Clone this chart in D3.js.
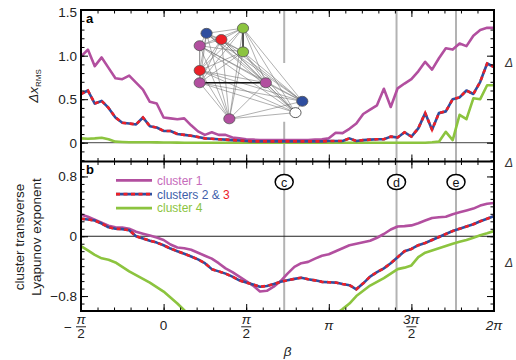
<!DOCTYPE html>
<html><head><meta charset="utf-8">
<script src="https://cdn.jsdelivr.net/npm/d3@7"></script>
<style>
body{margin:0;background:#fff}
svg{display:block}
text{font-family:"Liberation Sans",Arial,Helvetica,sans-serif}
</style>
</head><body>
<svg id="chart" width="516" height="360"></svg>
<script>
const PI = Math.PI;
// beta sampling grid: -pi/2 .. 2pi in steps of pi/24
const betaGrid = d3.range(61).map(i => -PI/2 + i*PI/24);

// panel a: Delta x_RMS
const rmsCluster1 = [0.99,1.07,0.88,0.98,0.86,0.74,0.73,0.77,0.69,0.61,0.47,0.45,0.29,0.28,0.27,0.28,0.20,0.13,0.09,0.12,0.09,0.09,0.06,0.05,0.04,0.035,0.03,0.03,0.03,0.03,0.03,0.03,0.03,0.03,0.035,0.04,0.05,0.115,0.11,0.16,0.22,0.33,0.38,0.43,0.62,0.41,0.625,0.68,0.73,0.82,0.93,0.84,0.97,1.085,1.07,1.14,1.11,1.23,1.295,1.32,1.32];
const rmsCluster23 = [0.56,0.60,0.45,0.48,0.40,0.29,0.23,0.22,0.21,0.29,0.19,0.175,0.135,0.135,0.10,0.09,0.08,0.065,0.05,0.045,0.04,0.035,0.03,0.025,0.02,0.015,0.015,0.015,0.015,0.015,0.015,0.015,0.015,0.015,0.015,0.015,0.02,0.02,0.02,0.05,0.02,0.03,0.035,0.04,0.04,0.07,0.06,0.12,0.07,0.165,0.34,0.15,0.34,0.36,0.50,0.52,0.60,0.56,0.70,0.91,0.87];
const rmsCluster4 = [0.05,0.045,0.05,0.057,0.04,0.012,0.008,0.005,0.005,0.005,0.005,0.004,0.003,0.002,0.001,0,0,0,0,0,0,0,0,0,0,0,0,0,0,0,0,0,0,0,0,0,0,0,0,0,0,0,0,0,0,0,0,0,0,0,0,0.005,0.012,0.125,0.03,0.32,0.27,0.51,0.50,0.66,0.66];

// panel b: cluster transverse Lyapunov exponent
const lyapCluster1 = [0.29,0.26,0.22,0.18,0.14,0.12,0.115,0.10,0.06,0.035,0.01,-0.018,-0.05,-0.11,-0.15,-0.16,-0.18,-0.22,-0.26,-0.30,-0.36,-0.43,-0.48,-0.54,-0.60,-0.66,-0.74,-0.73,-0.675,-0.60,-0.50,-0.41,-0.36,-0.343,-0.30,-0.26,-0.24,-0.20,-0.16,-0.12,-0.10,-0.08,-0.06,-0.02,0.03,0.09,0.13,0.135,0.145,0.175,0.21,0.245,0.255,0.26,0.295,0.32,0.345,0.37,0.41,0.435,0.444];
const lyapCluster23 = [0.235,0.225,0.21,0.17,0.12,0.10,0.095,0.08,0.0,-0.03,-0.06,-0.085,-0.12,-0.165,-0.20,-0.235,-0.27,-0.31,-0.36,-0.44,-0.47,-0.50,-0.54,-0.59,-0.62,-0.645,-0.675,-0.665,-0.64,-0.61,-0.59,-0.57,-0.555,-0.575,-0.59,-0.61,-0.615,-0.62,-0.64,-0.655,-0.71,-0.63,-0.54,-0.48,-0.43,-0.36,-0.28,-0.20,-0.17,-0.12,-0.09,-0.05,-0.01,0.03,0.07,0.10,0.13,0.16,0.20,0.235,0.27];
const lyapCluster4 = [-0.133,-0.19,-0.25,-0.295,-0.315,-0.35,-0.41,-0.47,-0.52,-0.57,-0.62,-0.68,-0.74,-0.82,-0.90,-0.99,-1.08,null,null,null,null,null,null,null,null,null,null,null,null,null,null,null,null,null,null,null,null,-1.04,-0.975,-0.90,-0.80,-0.73,-0.66,-0.61,-0.56,-0.50,-0.44,-0.42,-0.39,-0.28,-0.22,-0.19,-0.16,-0.13,-0.10,-0.075,-0.05,-0.02,0.013,0.04,0.07];

// marked beta values (vertical lines c, d, e)
const markLabels = ["c","d","e"];
const markBetas = [0.73*PI, 1.41*PI, 1.77*PI];

// tick labels
const xTickVals = [-PI/2, 0, PI/2, PI, 3*PI/2, 2*PI];
const xTickLabels = [{sign:"−",num:"π",den:"2"},{plain:"0"},{num:"π",den:"2"},{plain:"π"},{num:"3π",den:"2"},{plain:"2π"}];
const yTopTickVals = [0, 0.5, 1.0, 1.5];
const yTopTickLabels = ["0","0.5","1.0","1.5"];
const yBotTickVals = [-0.8, 0, 0.8];
const yBotTickLabels = ["−0.8","0","0.8"];

// legend
const legendNames = ["cluster 1","clusters 2 & 3","cluster 4"];

// network inset (unit layout)
const netNodes = [
  {k:"blue",  u:0.11, v:0.11},
  {k:"green", u:0.43, v:0.06},
  {k:"red",   u:0.24, v:0.17},
  {k:"purple",u:0.05, v:0.23},
  {k:"green", u:0.43, v:0.29},
  {k:"red",   u:0.05, v:0.47},
  {k:"purple",u:0.05, v:0.59},
  {k:"purple",u:0.63, v:0.59},
  {k:"blue",  u:0.95, v:0.77},
  {k:"white", u:0.89, v:0.88},
  {k:"purple",u:0.31, v:0.94}
];
const strongEdges = [[1,4],[6,7]];

const COL = {purple:"#b24f9f", blue:"#2f4e9f", red:"#ec2027", green:"#8cc43f", white:"#ffffff"};

const svg = d3.select("#chart");
const L = 81, R = 494, T = 10, M = 161.5, B = 311;
const x = d3.scaleLinear().domain([-PI/2, 2*PI]).range([L, R]);
const yA = d3.scaleLinear().domain([-0.216, 1.525]).range([M, T]);
const yB = d3.scaleLinear().domain([-1, 1]).range([B, M]);

const defs = svg.append("defs");
defs.append("clipPath").attr("id","clipA").append("rect").attr("x",L).attr("y",T).attr("width",R-L).attr("height",M-T);
defs.append("clipPath").attr("id","clipB").append("rect").attr("x",L).attr("y",M).attr("width",R-L).attr("height",B-M);

// vertical marker lines
const gA = svg.append("g").attr("clip-path","url(#clipA)");
const gB = svg.append("g").attr("clip-path","url(#clipB)");
markBetas.forEach((b,i) => {
  if (i === 0) {
    gA.append("line").attr("x1",x(b)).attr("x2",x(b)).attr("y1",yA(1.53)).attr("y2",yA(0.915)).attr("stroke","#b3b3b3").attr("stroke-width",2);
    gA.append("line").attr("x1",x(b)).attr("x2",x(b)).attr("y1",yA(0.24)).attr("y2",yA(-0.25)).attr("stroke","#b3b3b3").attr("stroke-width",2);
  } else {
    gA.append("line").attr("x1",x(b)).attr("x2",x(b)).attr("y1",yA(1.53)).attr("y2",yA(-0.25)).attr("stroke","#b3b3b3").attr("stroke-width",2);
  }
  gB.append("line").attr("x1",x(b)).attr("x2",x(b)).attr("y1",yB(1)).attr("y2",yB(-1)).attr("stroke","#b3b3b3").attr("stroke-width",2);
});

// zero lines
gA.append("line").attr("x1",L).attr("x2",R).attr("y1",yA(0)).attr("y2",yA(0)).attr("stroke","#444").attr("stroke-width",1);
gB.append("line").attr("x1",L).attr("x2",R).attr("y1",yB(0)).attr("y2",yB(0)).attr("stroke","#222").attr("stroke-width",1);

function drawSeries(g, yS, vals, color, dashed) {
  const data = betaGrid.map((b,i)=>({b, v:vals[i]}));
  const line = d3.line().defined(d=>d.v!==null).x(d=>x(d.b)).y(d=>yS(d.v));
  if (dashed) {
    g.append("path").attr("d",line(data)).attr("fill","none").attr("stroke",COL.blue).attr("stroke-width",2.6).attr("stroke-linejoin","round");
    g.append("path").attr("d",line(data)).attr("fill","none").attr("stroke",COL.red).attr("stroke-width",2.6).attr("stroke-dasharray","4,3.5");
  } else {
    g.append("path").attr("d",line(data)).attr("fill","none").attr("stroke",color).attr("stroke-width",2.6).attr("stroke-linejoin","round");
  }
}
drawSeries(gA, yA, rmsCluster4, COL.green, false);
drawSeries(gA, yA, rmsCluster1, COL.purple, false);
drawSeries(gA, yA, rmsCluster23, null, true);
drawSeries(gB, yB, lyapCluster4, COL.green, false);
drawSeries(gB, yB, lyapCluster1, COL.purple, false);
drawSeries(gB, yB, lyapCluster23, null, true);

// network inset
const nx = d3.scaleLinear().domain([0,1]).range([194, 308]);
const ny = d3.scaleLinear().domain([0,1]).range([22, 125]);
const gN = svg.append("g");
for (let i=0;i<netNodes.length;i++) for (let j=i+1;j<netNodes.length;j++) {
  gN.append("line").attr("x1",nx(netNodes[i].u)).attr("y1",ny(netNodes[i].v)).attr("x2",nx(netNodes[j].u)).attr("y2",ny(netNodes[j].v))
    .attr("stroke","#6e6e6e").attr("stroke-width",0.55);
}
strongEdges.forEach(([i,j])=>{
  gN.append("line").attr("x1",nx(netNodes[i].u)).attr("y1",ny(netNodes[i].v)).attr("x2",nx(netNodes[j].u)).attr("y2",ny(netNodes[j].v))
    .attr("stroke","#111").attr("stroke-width",1.3);
});
gN.selectAll("ellipse").data(netNodes).join("ellipse")
  .attr("cx",d=>nx(d.u)).attr("cy",d=>ny(d.v)).attr("rx",5.6).attr("ry",5)
  .attr("fill",d=>COL[d.k]).attr("stroke",d=>d.k==="white"?"#333":"#555").attr("stroke-width",0.8);

// ticks via axes
function tickAxis(axisFn, scale, vals, size, tx, ty) {
  const g = svg.append("g").attr("transform",`translate(${tx},${ty})`)
    .call(axisFn(scale).tickValues(vals).tickSize(size).tickFormat(""));
  g.select(".domain").remove();
  g.selectAll(".tick line").attr("stroke","#000").attr("stroke-width",1);
}
const xMinor = d3.range(1,25).map(k=>-PI/2 + k*PI/10);
const xMajor = [0, PI/2, PI, 3*PI/2];
[[d3.axisTop,T],[d3.axisBottom,M],[d3.axisTop,M],[d3.axisBottom,B]].forEach(([fn,yy])=>{
  tickAxis(fn, x, xMinor, -3.5, 0, yy);
  tickAxis(fn, x, xMajor, -7, 0, yy);
});
const yAMinor = d3.range(-2,15).map(k=>k/10);
const yAMajor = [0,0.5,1.0];
tickAxis(d3.axisLeft, yA, yAMinor, -3.5, L, 0);
tickAxis(d3.axisLeft, yA, yAMajor, -7, L, 0);
tickAxis(d3.axisRight, yA, yAMinor, -3.5, R, 0);
tickAxis(d3.axisRight, yA, yAMajor, -7, R, 0);
const yBMinor = d3.range(-9,10).map(k=>k/10);
const yBMajor = [-0.8,0,0.8];
tickAxis(d3.axisLeft, yB, yBMinor, -3.5, L, 0);
tickAxis(d3.axisLeft, yB, yBMajor, -7, L, 0);
tickAxis(d3.axisRight, yB, yBMinor, -3.5, R, 0);
tickAxis(d3.axisRight, yB, yBMajor, -7, R, 0);

// y tick labels
function yLabels(scale, vals, labels) {
  const g = svg.append("g").attr("transform",`translate(${L},0)`)
    .call(d3.axisLeft(scale).tickValues(vals).tickSize(0).tickPadding(4).tickFormat((d,i)=>labels[i]));
  g.select(".domain").remove();
  g.selectAll("text").attr("font-size",13.5).attr("fill","#222").attr("font-family",'"Liberation Sans",Arial,sans-serif');
}
yLabels(yA, yTopTickVals, yTopTickLabels);
yLabels(yB, yBotTickVals, yBotTickLabels);

// frames
svg.append("rect").attr("x",L).attr("y",T).attr("width",R-L).attr("height",B-T).attr("fill","none").attr("stroke","#000").attr("stroke-width",2);
svg.append("line").attr("x1",L).attr("x2",R).attr("y1",M).attr("y2",M).attr("stroke","#000").attr("stroke-width",2);

// x tick labels
const gx = svg.append("g").attr("fill","#222").attr("font-size",13.5);
xTickVals.forEach((v,i)=>{
  const lab = xTickLabels[i], cx = x(v);
  if (lab.plain !== undefined) {
    gx.append("text").attr("x",cx).attr("y",330).attr("text-anchor","middle")
      .attr("font-style", lab.plain==="0"?"normal":"italic").text(lab.plain);
  } else {
    gx.append("text").attr("x",cx).attr("y",324).attr("text-anchor","middle").attr("font-style","italic").text(lab.num);
    gx.append("line").attr("x1",cx-5).attr("x2",cx+5).attr("y1",326.8).attr("y2",326.8).attr("stroke","#222").attr("stroke-width",1);
    gx.append("text").attr("x",cx).attr("y",338).attr("text-anchor","middle").text(lab.den);
    if (lab.sign) gx.append("text").attr("x",cx-13).attr("y",331.5).attr("text-anchor","middle").text(lab.sign);
  }
});
svg.append("text").attr("x",(L+R)/2).attr("y",356).attr("text-anchor","middle").attr("font-style","italic").attr("font-size",13.5).attr("fill","#222").text("β");

// y axis titles
const tA = svg.append("text").attr("transform","translate(38,86) rotate(-90)").attr("text-anchor","middle").attr("font-size",13.5).attr("fill","#222");
tA.append("tspan").attr("font-style","italic").text("Δx");
tA.append("tspan").attr("font-size",8).attr("dy",3).text("RMS");
svg.append("text").attr("transform","translate(24,237) rotate(-90)").attr("text-anchor","middle").attr("font-size",13.5).attr("fill","#222").text("cluster transverse");
svg.append("text").attr("transform","translate(41,237) rotate(-90)").attr("text-anchor","middle").attr("font-size",13.5).attr("fill","#222").text("Lyapunov exponent");

// panel letters
svg.append("text").attr("x",86).attr("y",23).attr("font-size",13).attr("font-weight","bold").text("a");
svg.append("text").attr("x",86).attr("y",174).attr("font-size",13).attr("font-weight","bold").text("b");

// mark labels
markBetas.forEach((b,i)=>{
  svg.append("ellipse").attr("cx",x(b)).attr("cy",182).attr("rx",9).attr("ry",7.5).attr("fill","#fff").attr("stroke","#000").attr("stroke-width",1.5);
  svg.append("text").attr("x",x(b)).attr("y",186.5).attr("text-anchor","middle").attr("font-size",12.5).attr("fill","#111").text(markLabels[i]);
});

// legend
const legY = [180.3, 194.2, 208.1];
const gl = svg.append("g");
gl.append("line").attr("x1",116).attr("x2",152).attr("y1",legY[0]).attr("y2",legY[0]).attr("stroke",COL.purple).attr("stroke-width",2.8);
gl.append("line").attr("x1",116).attr("x2",152).attr("y1",legY[1]).attr("y2",legY[1]).attr("stroke",COL.blue).attr("stroke-width",2.8);
gl.append("line").attr("x1",116).attr("x2",152).attr("y1",legY[1]).attr("y2",legY[1]).attr("stroke",COL.red).attr("stroke-width",2.8).attr("stroke-dasharray","4,3.5");
gl.append("line").attr("x1",116).attr("x2",152).attr("y1",legY[2]).attr("y2",legY[2]).attr("stroke",COL.green).attr("stroke-width",2.8);
gl.append("text").attr("x",157).attr("y",legY[0]+4.3).attr("font-size",12).attr("fill","#c66bbb").text(legendNames[0]);
const t2 = gl.append("text").attr("x",157).attr("y",legY[1]+4.3).attr("font-size",12);
t2.append("tspan").attr("fill","#3d5eaa").text("clusters 2 & ");
t2.append("tspan").attr("fill","#ec2027").text("3");
gl.append("text").attr("x",157).attr("y",legY[2]+4.3).attr("font-size",12).attr("fill","#8cc43f").text(legendNames[2]);

// glyphs of the neighbouring panel at the right edge
[62, 162, 262].forEach(yy=>{
  svg.append("text").attr("x",505).attr("y",yy+5).attr("font-size",12).attr("font-style","italic").attr("fill","#333").text("Δ");
});
</script>
</body></html>
